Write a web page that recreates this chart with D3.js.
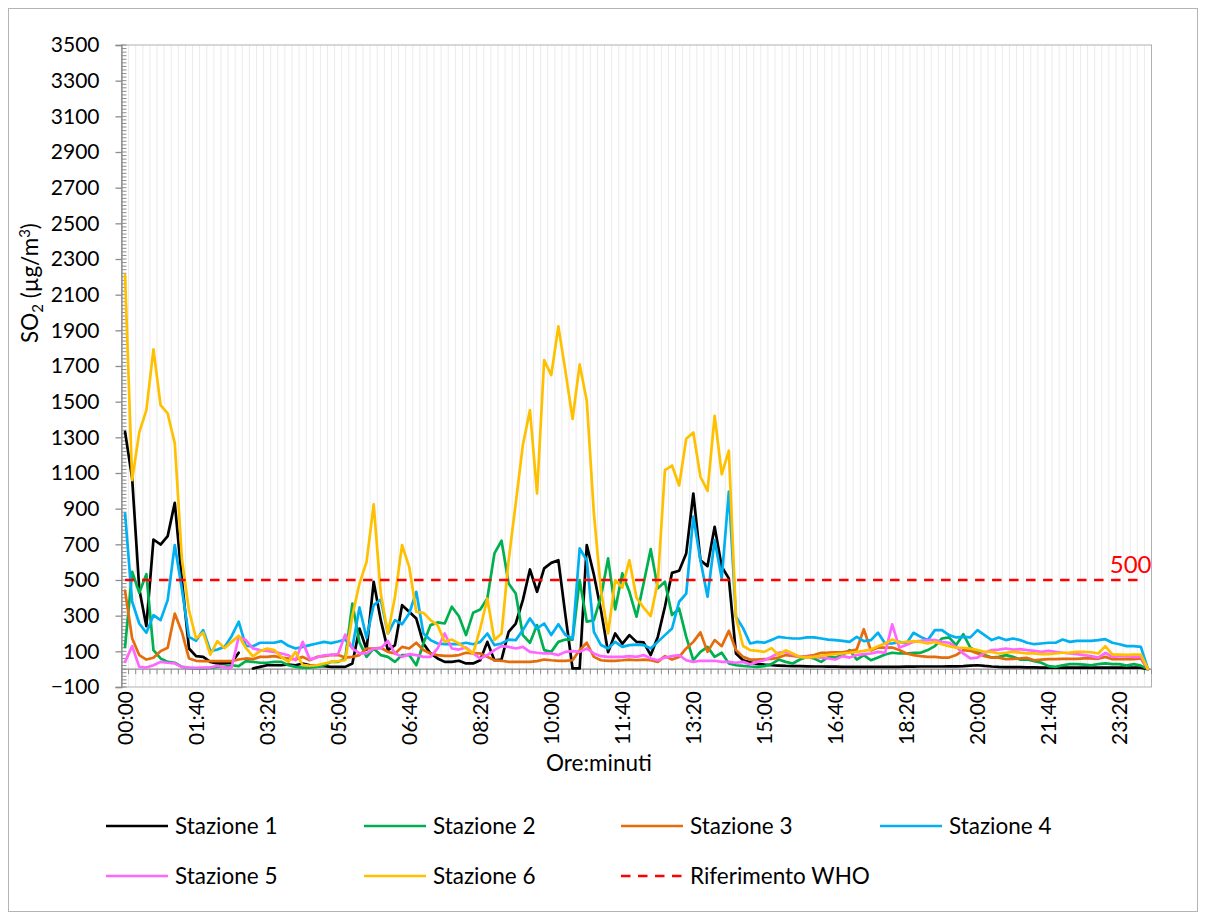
<!DOCTYPE html>
<html><head><meta charset="utf-8">
<script src="https://cdn.jsdelivr.net/npm/d3@7"></script>
<style>
body{margin:0;background:#fff}
text{font-family:Lato,"Noto Sans",sans-serif}
</style>
</head><body>
<svg id="chart" width="1206" height="920"></svg>
<script>
// ---------- data ----------
const tickLabels = ["00:00","01:40","03:20","05:00","06:40","08:20","10:00","11:40","13:20","15:00","16:40","18:20","20:00","21:40","23:20"];
const categories = [];
for (let m = 0; m <= 1440; m += 10) categories.push(String(Math.floor(m/60)).padStart(2,"0") + ":" + String(m%60).padStart(2,"0"));
const yTicks = [-100,100,300,500,700,900,1100,1300,1500,1700,1900,2100,2300,2500,2700,2900,3100,3300,3500];
const seriesNames = ["Stazione 1","Stazione 2","Stazione 3","Stazione 4","Stazione 5","Stazione 6"];
const whoName = "Riferimento WHO";
const whoLimit = 500;

const s1 = [1331,1070,450,241,727,699,746,933,500,116,
 73,69,41,32,32,36,92,null,4,13,
 22,22,22,26,22,32,22,17,17,13,
 13,13,32,228,110,490,275,107,135,359,
 322,284,144,88,60,41,41,47,32,32,
 50,153,50,54,209,256,387,559,434,565,
 596,611,300,4,4,696,530,330,95,200,
 142,191,153,150,79,181,350,540,552,649,
 985,611,578,798,574,509,88,50,38,30,
 25,22,20,18,17,17,16,15,15,14,
 14,13,13,13,13,13,13,13,13,13,
 14,14,15,15,15,15,16,16,17,20,
 22,18,15,13,12,11,11,10,10,9,
 9,9,9,9,9,9,9,9,9,9,
 9,9,9,9,0];
const s2 = [125,546,428,533,107,60,41,36,13,7,
 4,4,7,13,13,22,17,45,41,36,
 36,41,41,22,13,9,9,13,22,41,
 41,60,368,150,69,116,79,69,41,79,
 79,22,144,247,262,256,350,297,191,316,
 335,396,649,720,480,424,191,148,247,107,
 97,153,166,166,499,266,275,406,621,335,
 537,434,294,480,673,453,490,303,340,181,
 50,97,125,69,92,32,22,18,15,13,
 17,28,54,41,32,54,69,60,41,69,
 65,79,107,54,79,50,65,82,92,88,
 88,92,92,107,129,172,178,135,196,121,
 97,79,65,69,79,69,54,54,45,36,
 17,13,22,28,28,26,22,28,32,28,
 28,20,28,20,0];
const s3 = [440,172,79,54,64,101,120,312,209,60,
 47,45,45,45,45,45,54,60,56,69,
 69,73,65,60,54,69,50,69,73,80,
 79,65,69,79,116,116,120,97,88,125,
 116,148,107,88,79,75,75,79,92,88,
 88,69,50,47,41,41,41,41,45,54,
 50,47,47,50,107,148,69,50,47,47,
 50,54,50,54,50,41,73,54,69,116,
 153,206,97,163,129,215,107,69,54,54,
 56,58,65,79,75,69,73,79,92,93,
 95,95,101,110,224,105,121,121,121,107,
 88,79,73,69,69,65,65,79,107,103,
 88,73,65,65,56,58,60,63,50,54,
 56,56,58,58,58,60,60,58,69,56,
 56,58,56,60,0];
const s4 = [873,378,256,204,303,275,387,696,450,181,
 159,219,103,110,125,185,266,131,129,148,
 148,148,157,131,116,125,135,144,153,146,
 155,166,120,346,175,359,391,200,275,252,
 312,434,200,163,144,140,140,140,148,140,
 153,200,135,144,166,163,219,284,228,256,
 191,252,191,172,677,611,209,135,116,153,
 125,135,138,135,116,153,191,228,378,424,
 855,611,406,724,509,995,294,230,144,153,
 148,163,181,176,172,172,178,178,172,166,
 163,159,153,181,157,163,204,144,144,153,
 144,204,181,163,219,219,191,178,181,178,
 219,191,163,178,163,172,163,148,140,144,
 148,148,166,153,159,159,159,163,168,148,
 140,129,129,125,0];
const s5 = [41,129,13,9,22,41,36,32,13,9,
 7,9,9,19,9,9,181,163,116,107,
 103,97,88,78,50,153,55,65,78,80,
 85,194,116,88,88,116,116,159,88,69,
 84,79,69,69,116,200,116,110,122,88,
 60,79,107,129,125,116,125,97,92,88,
 88,79,97,101,97,116,88,73,69,69,
 69,73,69,79,60,50,65,73,79,50,
 41,47,47,47,41,41,36,41,28,41,
 50,69,92,97,82,69,69,69,64,60,
 54,73,65,79,84,88,97,92,251,121,
 135,153,159,163,163,153,148,125,88,60,
 65,92,107,110,116,110,112,107,103,97,
 103,97,92,88,84,79,73,65,92,69,
 73,73,69,69,0];
const s6 = [2210,1060,1328,1453,1793,1481,1434,1266,620,330,
 172,205,82,157,118,153,188,120,72,101,
 116,107,69,41,97,24,19,22,32,41,
 45,50,300,480,602,924,424,200,406,696,
 574,322,316,275,247,153,166,144,116,88,
 228,396,163,200,611,930,1257,1453,985,1733,
 1649,1922,1670,1403,1709,1505,873,440,200,500,
 457,611,400,345,298,490,1116,1142,1030,1292,
 1327,1079,1000,1421,1093,1225,290,130,107,103,
 97,118,80,106,88,69,65,69,75,80,
 84,88,92,97,103,110,129,144,166,148,
 153,157,153,144,153,140,129,121,120,116,
 107,97,97,88,92,97,93,88,88,84,
 84,88,92,93,97,97,95,88,129,82,
 82,80,82,82,0];
const seriesValues = [s1,s2,s3,s4,s5,s6];
const seriesColors = ["#000000","#00B050","#E46C0A","#00B0F0","#FF66FF","#FFC000"];
const whoColor = "#FF0000";

// ---------- layout ----------
const svg = d3.select("#chart");
const W = 1206, H = 920;
const plot = {left:121.5, right:1151.5, top:45, bottom:687};
const whoDash = "9.5,7.5";

svg.append("rect").attr("x",0).attr("y",0).attr("width",W).attr("height",H).attr("fill","#fff");
svg.append("rect").attr("x",8.5).attr("y",8.5).attr("width",1189).attr("height",903)
  .attr("fill","none").attr("stroke","#b4b4b4").attr("stroke-width",1);

const x = d3.scaleBand().domain(categories).range([plot.left, plot.right]).paddingInner(0).paddingOuter(0);
const bw = x.bandwidth();
const cx = c => x(c) + bw/2;
const y = d3.scaleLinear().domain([-100,3500]).range([plot.bottom, plot.top]);

// vertical gridlines at category boundaries
const gridG = svg.append("g");
categories.slice(1).forEach(c => {
  gridG.append("line").attr("x1",x(c)).attr("x2",x(c)).attr("y1",plot.top).attr("y2",plot.bottom)
    .attr("stroke","#ebebeb").attr("stroke-width",1);
});

// plot border
svg.append("rect").attr("x",plot.left).attr("y",plot.top).attr("width",plot.right-plot.left).attr("height",plot.bottom-plot.top)
  .attr("fill","none").attr("stroke","#b0b0b0").attr("stroke-width",1);

// y axis
const yAxis = d3.axisLeft(y).tickValues(yTicks).tickSize(6).tickPadding(16).tickFormat(d3.format("d"));
const yg = svg.append("g").attr("transform",`translate(${plot.left},0)`).call(yAxis);
yg.select(".domain").attr("stroke","#8c8c8c").attr("stroke-width",1.3);
yg.selectAll(".tick line").attr("stroke","#8c8c8c").attr("stroke-width",1.3);
yg.selectAll(".tick text").attr("font-size",21).attr("fill","#000").style("font-family","Lato");
// minor ticks inside
const minor = d3.range(-100, 3501, 20);
svg.append("g").selectAll("line").data(minor).join("line")
  .attr("x1",plot.left).attr("x2",plot.left+5).attr("y1",d=>y(d)).attr("y2",d=>y(d))
  .attr("stroke","#8c8c8c").attr("stroke-width",1);

// x axis at 0
const x0 = y(0);
const xg = svg.append("g");
xg.append("line").attr("x1",plot.left).attr("x2",plot.right).attr("y1",x0).attr("y2",x0)
  .attr("stroke","#8c8c8c").attr("stroke-width",1.3);
categories.forEach(c => {
  xg.append("line").attr("x1",x(c)).attr("x2",x(c)).attr("y1",x0).attr("y2",x0+5)
    .attr("stroke","#8c8c8c").attr("stroke-width",1);
});
xg.append("line").attr("x1",plot.right).attr("x2",plot.right).attr("y1",x0).attr("y2",x0+5)
  .attr("stroke","#8c8c8c").attr("stroke-width",1);
// x tick labels (rotated)
tickLabels.forEach(t => {
  svg.append("text").attr("transform",`translate(${cx(t)},${plot.bottom+4}) rotate(-90)`)
    .attr("text-anchor","end").attr("dy","0.36em").attr("font-size",21).attr("fill","#000").text(t);
});

// series lines
const line = d3.line().defined(d => d.v !== null).x(d => cx(d.c)).y(d => y(d.v));
seriesValues.forEach((vals,k) => {
  const pts = categories.map((c,i) => ({c, v: vals[i]}));
  svg.append("path").datum(pts).attr("d",line).attr("fill","none")
    .attr("stroke",seriesColors[k]).attr("stroke-width",2.7).attr("stroke-linejoin","round").attr("stroke-linecap","round");
});

// WHO reference
const whoCats = categories.slice(0, categories.length-1);
svg.append("path").datum(whoCats.map(c => ({c, v: whoLimit}))).attr("d",line).attr("fill","none")
  .attr("stroke",whoColor).attr("stroke-width",2.7).attr("stroke-dasharray",whoDash);
svg.append("text").attr("x",plot.right).attr("y",y(whoLimit)-7).attr("text-anchor","end")
  .attr("font-size",24).attr("fill",whoColor).text(String(whoLimit));

// axis titles
const yt = svg.append("text").attr("transform","translate(38,283) rotate(-90)").attr("text-anchor","middle")
  .attr("font-size",22.5).attr("fill","#000");
yt.append("tspan").text("SO");
yt.append("tspan").attr("font-size",15).attr("dy",5).text("2");
yt.append("tspan").attr("dy",-5).text(" (µg/m");
yt.append("tspan").attr("font-size",15).attr("dy",-8).text("3");
yt.append("tspan").attr("dy",8).text(")");

svg.append("text").attr("x",599).attr("y",771).attr("text-anchor","middle")
  .attr("font-size",22.5).attr("fill","#000").text("Ore:minuti");

// legend
const legendItems = seriesNames.map((n,k) => ({name:n, color:seriesColors[k], dash:null}))
  .concat([{name:whoName, color:whoColor, dash:whoDash}]);
const colX = [106, 364, 621, 880];
const rowY = [826, 876];
legendItems.forEach((it,k) => {
  const lx = colX[k % 4], ly = rowY[Math.floor(k/4)];
  svg.append("line").attr("x1",lx).attr("x2",lx+62).attr("y1",ly).attr("y2",ly)
    .attr("stroke",it.color).attr("stroke-width",2.7).attr("stroke-dasharray",it.dash);
  svg.append("text").attr("x",lx+69).attr("y",ly).attr("dy","0.36em")
    .attr("font-size",22.5).attr("fill","#000").text(it.name);
});
</script>
</body></html>
